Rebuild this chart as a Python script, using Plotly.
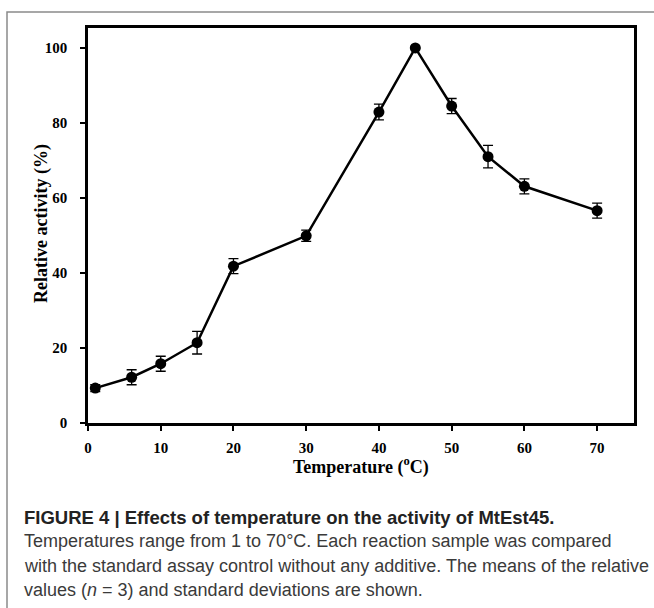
import plotly.graph_objects as go

temperature = [1, 6, 10, 15, 20, 30, 40, 45, 50, 55, 60, 70]
activity = [9.3, 12.2, 15.8, 21.4, 41.8, 49.9, 82.9, 100.0, 84.5, 71.0, 63.1, 56.6]
std_dev = [0.9, 2.0, 2.0, 3.0, 2.0, 1.5, 2.1, 0.0, 2.0, 3.0, 2.0, 2.0]
x_ticks = [0, 10, 20, 30, 40, 50, 60, 70]
y_ticks = [0, 20, 40, 60, 80, 100]

W, H = 654, 608
L, R, T, B = 88, 634, 28, 423
pw, ph = R - L, B - T

def px(x):
    return (x - L) / pw

def py(y):
    return (B - y) / ph

fig = go.Figure()
fig.add_trace(go.Scatter(
    x=temperature, y=activity,
    mode="lines+markers",
    line=dict(color="black", width=2.5),
    marker=dict(color="black", size=11),
    error_y=dict(type="data", array=std_dev, visible=True,
                 color="black", thickness=1.3, width=5),
    showlegend=False,
    cliponaxis=False,
))

serif = "Liberation Serif, Times New Roman, serif"
axis_common = dict(
    showline=True, linecolor="black", linewidth=2.5, mirror=True,
    ticks="outside", ticklen=5, tickwidth=1.5, tickcolor="black",
    showgrid=False, zeroline=False,
    tickfont=dict(family=serif, size=15, color="black", weight="bold"),
)
fig.update_xaxes(range=[0, 75.07], tickvals=x_ticks, ticklabelstandoff=4, **axis_common)
fig.update_yaxes(range=[0, 105.3], tickvals=y_ticks, ticklabelstandoff=10, **axis_common)

anns = [
    dict(text="Temperature (<sup>o</sup>C)", x=px(361), y=py(466),
         xanchor="center", yanchor="middle", showarrow=False,
         font=dict(family=serif, size=18, color="black", weight="bold")),
    dict(text="Relative activity (%)", x=px(41), y=py(224), textangle=-90,
         xanchor="center", yanchor="middle", showarrow=False,
         font=dict(family=serif, size=18, color="black", weight="bold")),
]
sans = "Liberation Sans, Arial, Helvetica, sans-serif"
cap_lines = [
    ("<b>FIGURE 4 | Effects of temperature on the activity of MtEst45.</b>", 517, "#222222", 18.5),
    ("Temperatures range from 1 to 70°C. Each reaction sample was compared", 541, "#3a3a3a", 18),
    ("with the standard assay control without any additive. The means of the relative", 566, "#3a3a3a", 18),
    ("values (<i>n</i> = 3) and standard deviations are shown.", 590, "#3a3a3a", 18),
]
for txt, yc, col, fs in cap_lines:
    anns.append(dict(text=txt, x=px(22), y=py(yc), xanchor="left", yanchor="middle",
                     showarrow=False, font=dict(family=sans, size=fs, color=col)))
for a in anns:
    a["xref"] = "paper"
    a["yref"] = "paper"

fig.update_layout(
    width=W, height=H,
    margin=dict(l=L, r=W - R, t=T, b=H - B),
    paper_bgcolor="white", plot_bgcolor="white",
    annotations=anns,
    shapes=[dict(type="rect", xref="paper", yref="paper",
                 x0=px(7), x1=px(662), y0=py(620), y1=py(12),
                 line=dict(color="#8a8a8a", width=1.5), layer="below")],
)

fig.write_html("out.html")
